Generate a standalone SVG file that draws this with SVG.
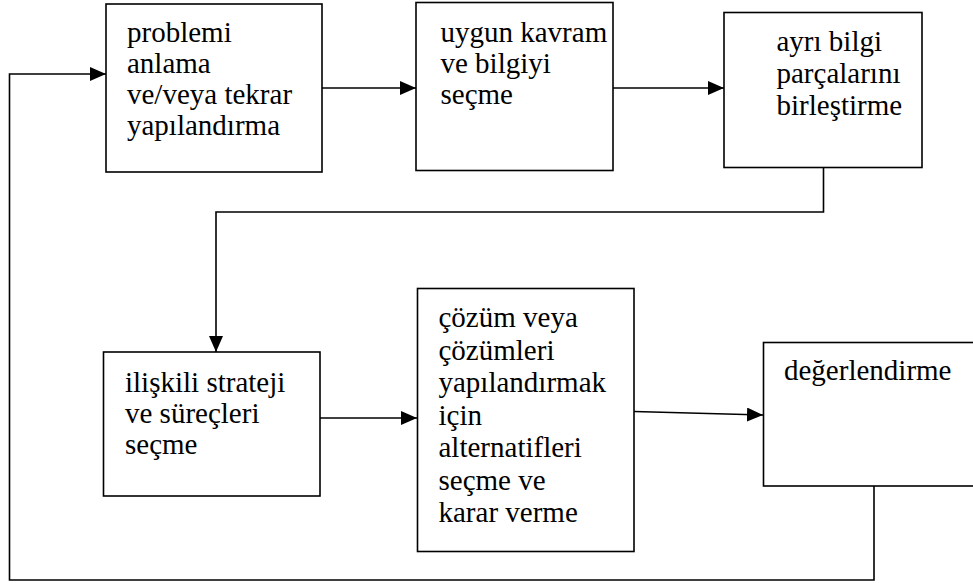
<svg xmlns="http://www.w3.org/2000/svg" width="973" height="583" viewBox="0 0 973 583">
  <style>
    .box { fill: #ffffff; stroke: #000000; stroke-width: 1.6; }
    text { font-family: 'Liberation Serif', 'DejaVu Serif', serif; font-size: 29px; fill: #000000; }
    .wire { fill: none; stroke: #000000; stroke-width: 1.6; }
  </style>
  <defs>
    <marker id="head" markerUnits="userSpaceOnUse" markerWidth="16" markerHeight="14" refX="16" refY="7" orient="auto">
      <path d="M0,0 L16,7 L0,14 Z" fill="#000000"/>
    </marker>
  </defs>

  <!-- connectors -->
  <g id="connectors">
    <line class="wire" x1="322" y1="88" x2="416" y2="88" marker-end="url(#head)"/>
    <line class="wire" x1="613" y1="88" x2="724" y2="88" marker-end="url(#head)"/>
    <polyline class="wire" points="823.5,167 823.5,212 216,212 216,352" marker-end="url(#head)"/>
    <line class="wire" x1="320" y1="418" x2="417" y2="418" marker-end="url(#head)"/>
    <line class="wire" x1="634" y1="411.5" x2="763" y2="415" marker-end="url(#head)"/>
    <polyline class="wire" points="874,486 874,580 9.5,580 9.5,74 106,74" marker-end="url(#head)"/>
  </g>

  <!-- step 1 -->
  <g id="n1" font-family="Liberation Serif, DejaVu Serif, serif">
    <rect class="box" x="106" y="4" width="216" height="168"/>
    <text x="127" y="42">problemi</text>
    <text x="127" y="73">anlama</text>
    <text x="127" y="104">ve/veya tekrar</text>
    <text x="127" y="135">yapılandırma</text>
  </g>

  <!-- step 2 -->
  <g id="n2" font-family="Liberation Serif, DejaVu Serif, serif">
    <rect class="box" x="416" y="2.5" width="197" height="168"/>
    <text x="440.5" y="41.5">uygun kavram</text>
    <text x="440.5" y="72.5">ve bilgiyi</text>
    <text x="440.5" y="103.5">seçme</text>
  </g>

  <!-- step 3 -->
  <g id="n3" font-family="Liberation Serif, DejaVu Serif, serif">
    <rect class="box" x="724" y="12.5" width="198" height="155"/>
    <text x="776.5" y="51">ayrı bilgi</text>
    <text x="776.5" y="83">parçalarını</text>
    <text x="776.5" y="115">birleştirme</text>
  </g>

  <!-- step 4 -->
  <g id="n4" font-family="Liberation Serif, DejaVu Serif, serif">
    <rect class="box" x="103.5" y="352" width="216.5" height="144"/>
    <text x="125" y="392">ilişkili strateji</text>
    <text x="125" y="423">ve süreçleri</text>
    <text x="125" y="454">seçme</text>
  </g>

  <!-- step 5 -->
  <g id="n5" font-family="Liberation Serif, DejaVu Serif, serif">
    <rect class="box" x="417.5" y="288.5" width="216.5" height="263"/>
    <text x="438.5" y="327">çözüm veya</text>
    <text x="438.5" y="359.5">çözümleri</text>
    <text x="438.5" y="392">yapılandırmak</text>
    <text x="438.5" y="424.5">için</text>
    <text x="438.5" y="457">alternatifleri</text>
    <text x="438.5" y="489.5">seçme ve</text>
    <text x="438.5" y="522">karar verme</text>
  </g>

  <!-- step 6 -->
  <g id="n6" font-family="Liberation Serif, DejaVu Serif, serif">
    <rect class="box" x="763.5" y="342.5" width="211" height="143.5"/>
    <text x="784" y="379.5">değerlendirme</text>
  </g>
</svg>
